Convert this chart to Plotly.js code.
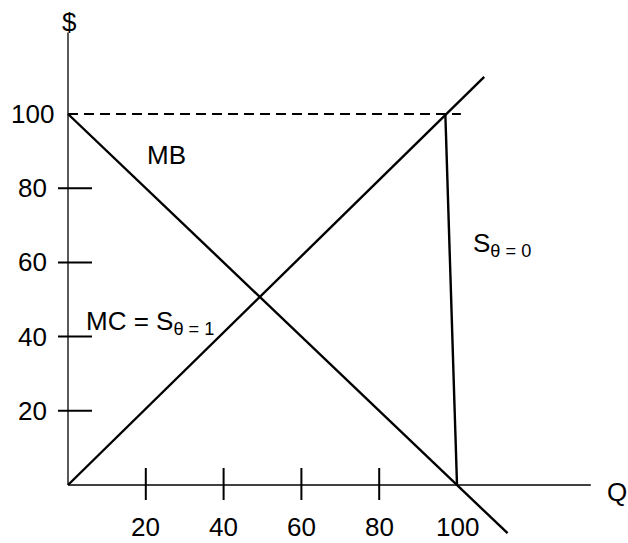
<!DOCTYPE html>
<html>
<head>
<meta charset="utf-8">
<script src="https://cdn.plot.ly/plotly-3.0.1.min.js"></script>
<style>html,body{margin:0;padding:0;background:#fff;}#chart{width:628px;height:543px;}</style>
</head>
<body>
<div id="chart"></div>
<script>
// ---- data ----
const mbQ = [0, 113];      // marginal benefit
const mbP = [100, -13];
const mcQ = [0, 107];      // marginal cost = S(theta=1)
const mcP = [0, 110];
const s0Q = [97, 100];     // supply when theta = 0
const s0P = [100, 0];
const capQ = [0, 101];     // dashed price line at 100
const capP = [100, 100];
const xAxisQ = [0, 134.4];
const yAxisP = [0, 122];
const xTickVals = [20, 40, 60, 80];
const xLabelVals = [20, 40, 60, 80, 100];
const xTickLabels = ['20', '40', '60', '80', '100'];
const yTickVals = [20, 40, 60, 80];
const yLabelVals = [20, 40, 60, 80, 100];
const yTickLabels = ['20', '40', '60', '80', '100'];

const FONT = 'Liberation Sans, Arial, sans-serif';
const FS = 26;
const black = '#000';

function line(x, y, w, dash) {
  return {x: x, y: y, mode: 'lines', type: 'scatter', hoverinfo: 'skip',
          line: {color: black, width: w, dash: dash || 'solid'}};
}

const traces = [
  line(xAxisQ, [0, 0], 1.3),
  line([0, 0], yAxisP, 1.3),
  line(capQ, capP, 2.2, '10px,6px'),
  line(mbQ, mbP, 2.4),
  line(mcQ, mcP, 2.4),
  line(s0Q, s0P, 2.4)
];

const shapes = [];
xTickVals.forEach(v => shapes.push({
  type: 'line', xref: 'x', yref: 'y', x0: v, x1: v,
  ysizemode: 'pixel', yanchor: 0, y0: -15, y1: 17,
  line: {color: black, width: 2}
}));
yTickVals.forEach(v => shapes.push({
  type: 'line', xref: 'x', yref: 'y', y0: v, y1: v,
  xsizemode: 'pixel', xanchor: 0, x0: -10, x1: 24,
  line: {color: black, width: 2}
}));

const annotations = [];
xLabelVals.forEach((v, i) => annotations.push({
  x: v, y: 0, xref: 'x', yref: 'y', text: xTickLabels[i], showarrow: false,
  xanchor: 'center', yanchor: 'middle', yshift: -42,
  font: {family: FONT, size: FS, color: black}
}));
yLabelVals.forEach((v, i) => annotations.push({
  x: 0, y: v, xref: 'x', yref: 'y', text: yTickLabels[i], showarrow: false,
  xanchor: 'center', yanchor: 'middle', xshift: -36,
  font: {family: FONT, size: FS, color: black}
}));
annotations.push(
  {x: 0, y: 124.8, text: '$', xanchor: 'center', yanchor: 'middle', xshift: 1},
  {x: 141.1, y: -1.9, text: 'Q', xanchor: 'center', yanchor: 'middle'},
  {x: 25.4, y: 88.9, text: 'MB', xanchor: 'center', yanchor: 'middle'},
  {x: 4.2, y: 43.9, text: 'MC = S<sub>θ = 1</sub>', xanchor: 'left', yanchor: 'middle'},
  {x: 103.7, y: 64.7, text: 'S<sub>θ = 0</sub>', xanchor: 'left', yanchor: 'middle'}
);
annotations.slice(-5).forEach(a => {
  a.xref = 'x'; a.yref = 'y'; a.showarrow = false;
  a.font = {family: FONT, size: FS, color: black};
});

const layout = {
  width: 628, height: 543,
  margin: {l: 0, r: 0, t: 0, b: 0},
  paper_bgcolor: '#fff', plot_bgcolor: '#fff',
  showlegend: false,
  xaxis: {range: [-68 / 3.89, 560 / 3.89], visible: false, fixedrange: true},
  yaxis: {range: [-58 / 3.71, 485 / 3.71], visible: false, fixedrange: true},
  shapes: shapes,
  annotations: annotations
};

Plotly.newPlot('chart', traces, layout, {displayModeBar: false, staticPlot: true});
</script>
</body>
</html>
